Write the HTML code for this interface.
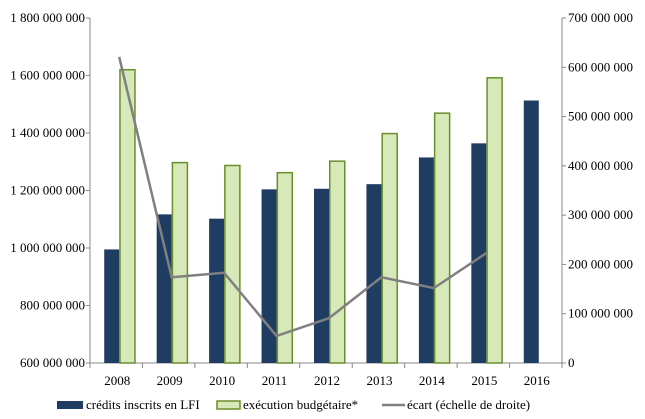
<!DOCTYPE html>
<html><head><meta charset="utf-8"><style>
body{margin:0;background:#fff;}
svg{display:block;font-family:"Liberation Serif",serif;}
</style></head><body>
<svg id="c" width="645" height="419"></svg>
<script>
const categories=["2008","2009","2010","2011","2012","2013","2014","2015","2016"];
const credits=[995e6,1117e6,1102e6,1204e6,1206e6,1222e6,1315e6,1364e6,1513e6];
const execution=[1620e6,1297e6,1287e6,1262e6,1302e6,1398e6,1469e6,1592e6,null];
const ecart=[621e6,174e6,183e6,55e6,91e6,174e6,152e6,223e6,null];
const leftTicks=["600 000 000","800 000 000","1 000 000 000","1 200 000 000","1 400 000 000","1 600 000 000","1 800 000 000"];
const rightTicks=["0","100 000 000","200 000 000","300 000 000","400 000 000","500 000 000","600 000 000","700 000 000"];
const NS="http://www.w3.org/2000/svg",svg=document.getElementById('c');
const X0=90,X1=562,Y0=363,Y1=18,bw=(X1-X0)/categories.length;
const yL=v=>Y0-(v-600e6)/(1200e6)*(Y0-Y1);
const yR=v=>Y0-v/700e6*(Y0-Y1);
const xC=i=>X0+bw*(i+0.5);
const FS=13;
function mk(t,a,txt){const e=document.createElementNS(NS,t);for(const k in a)e.setAttribute(k,a[k]);if(txt!=null)e.textContent=txt;svg.appendChild(e);return e;}
let e;
e=mk('line',{x1:X0,y1:Y1,x2:X0,y2:Y0,stroke:'#888'});


e=mk('line',{x1:X1,y1:Y1,x2:X1,y2:Y0,stroke:'#888'});


e=mk('line',{x1:X0,y1:Y0,x2:X1,y2:Y0,stroke:'#888'});


leftTicks.forEach((t,i)=>{const y=Y0-i*(Y0-Y1)/(leftTicks.length-1);
 mk('line',{x1:X0-4,y1:y,x2:X0,y2:y,stroke:'#888'});
 e=mk('text',{x:X0-5,y:y+4,'text-anchor':'end','font-size':FS,fill:'#000'},t);
 
 });
rightTicks.forEach((t,i)=>{const y=Y0-i*(Y0-Y1)/(rightTicks.length-1);
 mk('line',{x1:X1,y1:y,x2:X1+4,y2:y,stroke:'#888'});
 e=mk('text',{x:X1+6,y:y+4,'font-size':FS,fill:'#000'},t);
 
 });
for(let i=0;i<=categories.length;i++){const x=X0+i*bw;mk('line',{x1:x,y1:Y0,x2:x,y2:Y0+5,stroke:'#888'});}
categories.forEach((c,i)=>{
 const cx=xC(i)+3;
 e=mk('rect',{x:cx-15,y:yL(credits[i]),width:15,height:Y0-yL(credits[i]),fill:'#1f3d63'});
 
 
 if(execution[i]!=null){
 e=mk('rect',{x:cx+0.75,y:yL(execution[i]),width:15,height:Y0-yL(execution[i]),fill:'#d7e9b9',stroke:'#6a8e2a','stroke-width':1.5});
 
 }
 e=mk('text',{x:xC(i)+1,y:385,'text-anchor':'middle','font-size':FS,fill:'#000'},c);
 
 
});
const pts=ecart.map((v,i)=>v==null?null:(xC(i)+3)+','+yR(v)).filter(p=>p);
e=mk('polyline',{points:pts.join(' '),fill:'none',stroke:'#808080','stroke-width':2.5});


// legend
e=mk('rect',{x:57,y:401,width:26,height:8,fill:'#1f3d63'});


e=mk('text',{x:86,y:409,'font-size':FS},'crédits inscrits en LFI');


e=mk('rect',{x:217,y:401,width:23,height:8,fill:'#d7e9b9',stroke:'#6a8e2a','stroke-width':1.5});


e=mk('text',{x:243,y:409,'font-size':FS},'exécution budgétaire*');


e=mk('line',{x1:382,y1:405,x2:405,y2:405,stroke:'#808080','stroke-width':2.5});


e=mk('text',{x:407,y:409,'font-size':FS},'écart (échelle de droite)');


</script>
</body></html>
